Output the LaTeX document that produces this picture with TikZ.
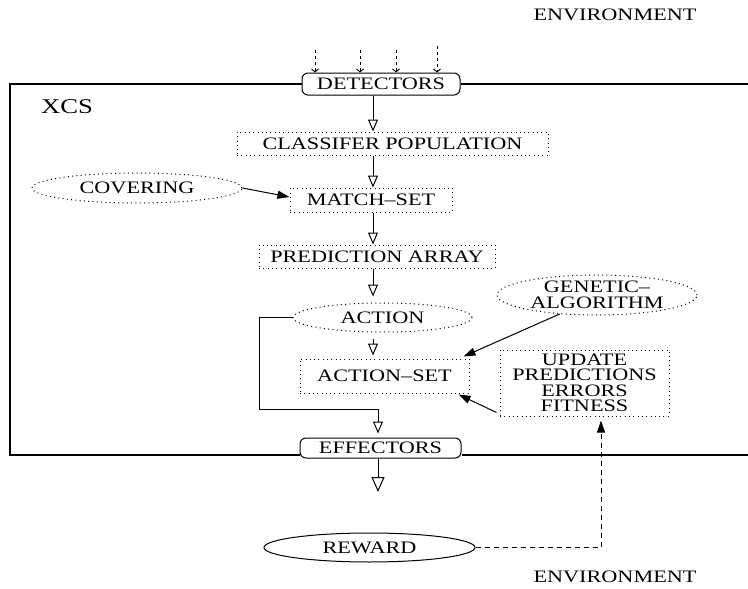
\documentclass[tikz,border=0pt]{standalone}
\usepackage{fontspec}
\setmainfont{Liberation Serif}[FakeStretch=1.27]
\usetikzlibrary{arrows.meta,shapes.geometric,calc}
\begin{document}
\begin{tikzpicture}[x=1pt,y=-1pt,
  font=\fontsize{17.5}{15.5}\selectfont,
  line width=1pt,
  dotbox/.style={draw, dash pattern=on 1pt off 3.3pt, line width=1pt, rectangle, inner sep=0pt, align=center},
  dotell/.style={draw, dash pattern=on 1pt off 3.3pt, line width=1pt, ellipse, inner sep=0pt, align=center},
  rbox/.style={draw, rounded corners=6pt, inner sep=0pt, line width=1pt},
  openarr/.style={-{Triangle[open,length=12pt,width=10pt]}},
  bigopen/.style={-{Triangle[open,length=15pt,width=13pt]}},
  fillarr/.style={-{Triangle[length=12pt,width=8pt]}},
  topdash/.style={dash pattern=on 3pt off 3pt, line width=0.9pt, -{Straight Barb[length=3pt,width=7pt]}},
  plain/.style={inner sep=0pt}]
\useasboundingbox (0,0) rectangle (748,589);

% environment labels
\node[plain] (envtop) at (615,15) {ENVIRONMENT};
\node[plain] (envbot) at (615,577) {ENVIRONMENT};

% nodes
\node[rbox, minimum width=158pt, minimum height=22pt] (det) at (381,84) {DETECTORS};
\node[dotbox, minimum width=311pt, minimum height=23pt] (pop) at (392.5,143.5) {CLASSIFER POPULATION};
\node[dotbox, minimum width=162pt, minimum height=24pt] (match) at (371,200) {MATCH--SET};
\node[dotell, minimum width=210pt, minimum height=30pt] (cov) at (137,188) {COVERING};
\node[dotbox, minimum width=236pt, minimum height=23pt] (pred) at (377,256.5) {PREDICTION ARRAY};
\node[dotell, minimum width=179pt, minimum height=29pt] (action) at (382.5,317.5) {ACTION};
\node[dotbox, minimum width=169pt, minimum height=34pt] (aset) at (384.5,376) {ACTION--SET};
\node[dotell, minimum width=200pt, minimum height=40pt, inner ysep=-6pt] (ga) at (597,295) {GENETIC--\\ALGORITHM};
\node[dotbox, minimum width=169pt, minimum height=66pt] (upd) at (584.5,383) {UPDATE\\PREDICTIONS\\ERRORS\\FITNESS};
\node[rbox, minimum width=161pt, minimum height=20pt] (eff) at (380.5,448) {EFFECTORS};
\node[draw, ellipse, inner sep=0pt, minimum width=211pt, minimum height=29pt] (reward) at (369.5,547.5) {REWARD};
\node[plain, font=\fontsize{21}{24}\selectfont] (xcs) at (67,107) {XCS};

% XCS frame
\coordinate (ftl) at (10,84);
\coordinate (fbl) at (10,455);
\coordinate (ftr) at (748,84);
\coordinate (fbr) at (748,455);
\draw[line width=1.2pt] (det.west) -- (ftl) -- (fbl) -- (fbl -| eff.west);
\draw[line width=1.2pt] (det.east) -- (ftr);
\draw[line width=1.2pt] (fbr -| eff.east) -- (fbr);

% inputs from environment
\coordinate (in1) at (315,50);
\coordinate (in2) at (360,50);
\coordinate (in3) at (396,50);
\coordinate (in4) at (437,46);
\foreach \c in {in1,in2,in3,in4}
  \draw[topdash] (\c) -- (\c |- det.north);

% main spine
\coordinate (spine) at (373,0);
\coordinate (arrx) at (378,0);
\draw[openarr] (det.south -| spine) -- (pop.north -| spine);
\draw[openarr] (pop.south -| spine) -- (match.north -| spine);
\draw[openarr] (match.south -| spine) -- (pred.north -| spine);
\draw[openarr] (pred.south -| spine) -- ($(action.north -| spine)+(0,-6)$);
\draw[openarr] ($(action.south -| spine)+(0,6)$) -- ($(aset.north -| spine)+(0,-3)$);

% action to effectors
\coordinate (lft) at (259,409);
\draw[openarr] (action.west) -| (lft) -| ($(eff.north -| arrx)+(0,-4)$);

% effectors out
\coordinate (effout) at (378,492);
\draw[bigopen] (eff.south -| arrx) -- (effout);

% side inputs
\draw[fillarr] (cov.east) -- ($(match.west)+(0,-3)$);
\draw[fillarr] (ga.207) -- ($(aset.north east)+(-6,-2)$);
\draw[fillarr] ($(upd.south west)+(-3,-4)$) -- ($(aset.south east)+(-11,1)$);

% reward feedback
\draw[dash pattern=on 5pt off 4pt, fillarr] (reward.east) -| ($(upd.south)+(16.5,4)$);
\end{tikzpicture}
\end{document}
